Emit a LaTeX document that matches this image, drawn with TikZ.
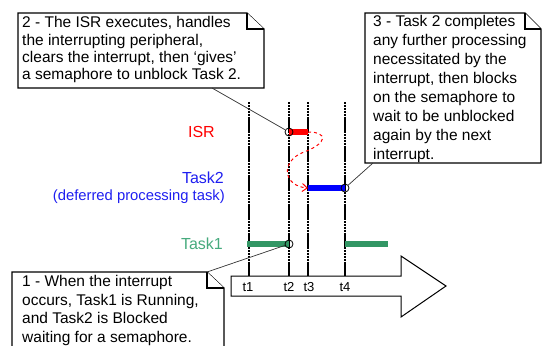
\documentclass[tikz,border=0pt]{standalone}
\usepackage{fontspec}
\setmainfont{Liberation Sans}
\usetikzlibrary{arrows.meta}
\definecolor{isrred}{RGB}{255,0,0}
\definecolor{taskblue}{RGB}{0,0,255}
\definecolor{lblblue}{RGB}{30,30,240}
\definecolor{bargreen}{RGB}{50,150,100}
\definecolor{lblgreen}{RGB}{70,170,125}
\tikzset{
  note/.style={draw=black, line width=1.1pt, fill=white, line join=miter},
  notetext/.style={anchor=north west, align=left, inner sep=0pt},
  timeline/.style={line width=2.4pt, dash pattern=on 2.4pt off 0.5pt},
  runbar/.style={line width=5.5pt},
  hitdot/.style={circle, draw, inner sep=0pt, minimum size=8pt, line width=0.8pt},
  pointer/.style={draw=black!80, line width=0.7pt},
  tlabel/.style={inner sep=0pt, font=\fontsize{13}{13}\selectfont},
  rowlabel/.style={anchor=east, inner sep=0pt, font=\fontsize{16}{16}\selectfont}
}
\begin{document}
\begin{tikzpicture}[x=1pt, y=-1pt]
  \useasboundingbox (0,0) rectangle (542,346);

  % time axis
  \foreach \x in {249,289,308,345}
    \draw[timeline] (\x,102) -- (\x,276);
  \draw[note, line width=1pt] (231,276) -- (401,276) -- (401,256) -- (446,286)
    -- (401,317) -- (401,296) -- (231,296) -- cycle;
  \node[tlabel] (t1) at (248,287) {t1};
  \node[tlabel] (t2) at (289,287) {t2};
  \node[tlabel] (t3) at (309,287) {t3};
  \node[tlabel] (t4) at (345,287) {t4};

  % rows
  \node[rowlabel, text=isrred] (isrlbl) at (215,132) {ISR};
  \node[rowlabel, text=lblblue] (tasktwolbl) at (224,178) {Task2};
  \node[rowlabel, text=lblblue, font=\fontsize{14.8}{14.8}\selectfont] (deferlbl) at (225,197) {(deferred processing task)};
  \node[rowlabel, text=lblgreen] (taskonelbl) at (223,244) {Task1};

  \coordinate (isrend) at (308,132);
  \coordinate (tasktwostart) at (308,188);
  \draw[runbar, isrred] (289,132) -- (isrend);
  \draw[runbar, taskblue] (tasktwostart) -- (345,188);
  \draw[runbar, bargreen] (247,244) -- (289,244);
  \draw[runbar, bargreen] (345,244) -- (388,244);

  \draw[isrred, line width=1pt, dashed, -{Straight Barb[length=5pt, width=8pt]}]
    (isrend) .. controls (328,132) and (328,143) .. (304,152)
    .. controls (280,161) and (283,186) .. (tasktwostart);

  \node[hitdot] (isrhit) at (289,132) {};
  \node[hitdot] (taskonehit) at (289,244) {};
  \node[hitdot] (tasktwohit) at (345,188) {};

  % note 2
  \draw[note] (18,13) -- (247,13) -- (264,29) -- (264,88) -- (18,88) -- cycle;
  \draw[note] (247,13) -- (247,29) -- (264,29);
  \node[notetext, font=\fontsize{15.5}{17.3}\selectfont] (note2) at (22,16.5)
    {2 - The ISR executes, handles\\the interrupting peripheral,\\clears the interrupt, then `gives'\\a semaphore to unblock Task 2.};
  \coordinate (note2tip) at (212,88);
  \draw[pointer] (note2tip) -- (isrhit);

  % note 3
  \draw[note] (365,13) -- (525,13) -- (541,29) -- (541,163) -- (365,163) -- cycle;
  \draw[note] (525,13) -- (525,29) -- (541,29);
  \node[notetext, font=\fontsize{15.5}{19}\selectfont] (note3) at (373,15)
    {3 - Task 2 completes\\any further processing\\necessitated by the\\interrupt, then blocks\\on the semaphore to\\wait to be unblocked\\again by the next\\interrupt.};
  \coordinate (note3tip) at (373,163);
  \draw[pointer] (note3tip) -- (tasktwohit);

  % note 1
  \draw[note] (12,272) -- (207,272) -- (224,288) -- (224,352) -- (12,352) -- cycle;
  \draw[note] (207,272) -- (207,288) -- (224,288);
  \node[notetext, font=\fontsize{15.5}{18.7}\selectfont] (note1) at (22,275)
    {1 - When the interrupt\\occurs, Task1 is Running,\\and Task2 is Blocked\\waiting for a semaphore.};
  \coordinate (note1tip) at (207,272);
  \draw[pointer] (note1tip) -- (taskonehit);
\end{tikzpicture}
\end{document}
